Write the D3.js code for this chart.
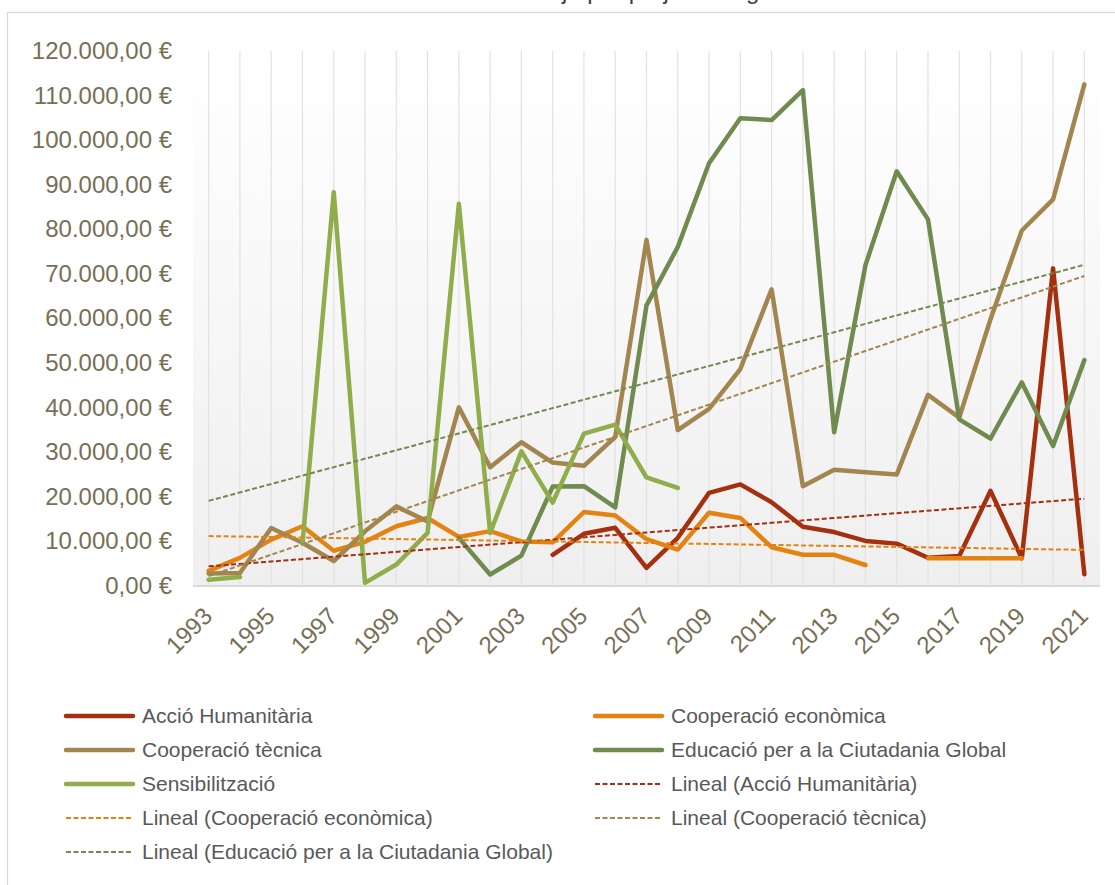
<!DOCTYPE html>
<html>
<head>
<meta charset="utf-8">
<script src="https://cdn.jsdelivr.net/npm/d3@7"></script>
<style>
  body { margin: 0; background: #fff; }
  svg { display: block; font-family: "Liberation Sans", Arial, sans-serif; }
</style>
</head>
<body>
<div id="chart"></div>
<script>
// Categories (years)
const years = [1993, 1994, 1995, 1996, 1997, 1998, 1999, 2000, 2001, 2002,
  2003, 2004, 2005, 2006, 2007, 2008, 2009, 2010, 2011, 2012,
  2013, 2014, 2015, 2016, 2017, 2018, 2019, 2020, 2021];

// Series values (null = no data)
const accioHumanitaria = [null, null, null, null, null, null, null, null, null, null,
  null, 6900, 11600, 12960, 3950, 10700, 20800, 22700, 18700, 13200,
  12000, 10000, 9400, 6240, 6640, 21250, 6100, 71200, 2500];
const cooperacioEconomica = [3300, 6200, 10300, 13300, 7800, 9800, 13300, 15150, 10900, 12200,
  9900, 9700, 16500, 15700, 10400, 8060, 16350, 15170, 8600, 6900,
  6900, 4600, null, 6100, 6100, 6100, 6100, null, null];
const cooperacioTecnica = [2700, 2800, 12900, 9600, 5500, 12160, 17760, 14400, 40000, 26570,
  32160, 27600, 26860, 33340, 77600, 34900, 39660, 48600, 66500, 22280,
  26000, 25440, 24900, 42800, 37700, 59800, 79700, 86700, 112500];
const educacioCiutadania = [null, null, null, null, null, null, null, null, 10700, 2460,
  6700, 22200, 22300, 17540, 62900, 76000, 94800, 104900, 104500, 111200,
  34400, 71900, 93000, 82200, 37300, 33000, 45600, 31300, 50600];
const sensibilitzacio = [1300, 1900, null, 9400, 88300, 600, 4700, 11800, 85700, 11800,
  30100, 18600, 34100, 36100, 24250, 21900, null, null, null, null,
  null, null, null, null, null, null, null, null, null];

// Linear trendlines, read at first and last category
const trendStart = [4300, 11100, 2100, 19000];
const trendEnd = [19500, 8000, 69500, 72000];

// Axis ticks
const yTicks = [0, 10000, 20000, 30000, 40000, 50000, 60000, 70000, 80000, 90000, 100000, 110000, 120000];
const xLabelYears = [1993, 1995, 1997, 1999, 2001, 2003, 2005, 2007, 2009, 2011, 2013, 2015, 2017, 2019, 2021];

const seriesNames = ['Acció Humanitària', 'Cooperació econòmica', 'Cooperació tècnica',
  'Educació per a la Ciutadania Global', 'Sensibilització'];
const seriesColors = ['#a5300f', '#e48312', '#a3864f', '#708b50', '#8fad4b'];
const seriesData = [accioHumanitaria, cooperacioEconomica, cooperacioTecnica, educacioCiutadania, sensibilitzacio];

const width = 1115, height = 885;
const plot = { left: 193, right: 1100, top: 51, bottom: 585.5 };

const svg = d3.select('#chart').append('svg')
  .attr('width', width)
  .attr('height', height);

// Chart border
svg.append('rect')
  .attr('x', 7.5).attr('y', 12.5)
  .attr('width', 1200).attr('height', 1000)
  .attr('fill', '#fff')
  .attr('stroke', '#d9d9d9')
  .attr('stroke-width', 1.3);

// Title (cut off at the top of the picture)
const titleText = 'Cost mitjà per projecte segons modalitat';
const probe = svg.append('text').attr('font-size', 24).text('Cost mit');
const probeW = probe.node().getComputedTextLength();
probe.remove();
svg.append('text')
  .attr('x', 562 - probeW)
  .attr('y', -1)
  .attr('font-size', 24)
  .attr('fill', '#404040')
  .text(titleText);

// Scales
const x = d3.scaleBand().domain(years).range([plot.left, plot.right]);
const xc = d => x(d) + x.bandwidth() / 2;
const y = d3.scaleLinear().domain([0, 120000]).range([plot.bottom, plot.top]);

// Plot area gradient fill
const defs = svg.append('defs');
const grad = defs.append('linearGradient')
  .attr('id', 'plotFill')
  .attr('x1', 0).attr('y1', 0).attr('x2', 0).attr('y2', 1);
grad.append('stop').attr('offset', '0%').attr('stop-color', '#ffffff');
grad.append('stop').attr('offset', '100%').attr('stop-color', '#efefef');
svg.append('rect')
  .attr('x', plot.left).attr('y', plot.top)
  .attr('width', plot.right - plot.left)
  .attr('height', plot.bottom - plot.top)
  .attr('fill', 'url(#plotFill)');

// Vertical gridlines at every category
const grid = svg.append('g')
  .attr('transform', `translate(0,${plot.bottom})`)
  .call(d3.axisBottom(x).tickSize(-(plot.bottom - plot.top)).tickFormat(''));
grid.select('.domain').remove();
grid.selectAll('.tick line').attr('stroke', '#e2e2e2').attr('stroke-width', 1.2);

// X axis line
svg.append('line')
  .attr('x1', plot.left).attr('x2', plot.right)
  .attr('y1', plot.bottom + 0.5).attr('y2', plot.bottom + 0.5)
  .attr('stroke', '#d9d9d9')
  .attr('stroke-width', 2);

// X axis labels (every other year, rotated)
const xAxis = svg.append('g')
  .attr('transform', `translate(0,${plot.bottom})`)
  .call(d3.axisBottom(x).tickValues(xLabelYears).tickSize(0).tickPadding(0));
xAxis.select('.domain').remove();
xAxis.selectAll('text')
  .attr('font-size', 24)
  .attr('font-family', '"Liberation Sans", Arial, sans-serif')
  .attr('fill', '#776f55')
  .attr('text-anchor', 'end')
  .attr('dy', null)
  .attr('y', 0)
  .attr('transform', 'translate(5,32) rotate(-45)');

// Y axis labels
const euro = d3.formatLocale({ decimal: ',', thousands: '.', grouping: [3], currency: ['', ' €'] }).format('$,.2f');
const yAxis = svg.append('g')
  .attr('transform', 'translate(172,0)')
  .call(d3.axisLeft(y).tickValues(yTicks).tickSize(0).tickPadding(0).tickFormat(euro));
yAxis.select('.domain').remove();
yAxis.selectAll('text')
  .attr('font-size', 24)
  .attr('font-family', '"Liberation Sans", Arial, sans-serif')
  .attr('fill', '#776f55');

// Series lines
const line = d3.line()
  .defined(d => d != null)
  .x((d, i) => xc(years[i]))
  .y(d => y(d));

seriesData.forEach((values, k) => {
  svg.append('path')
    .datum(values)
    .attr('d', line)
    .attr('fill', 'none')
    .attr('stroke', seriesColors[k])
    .attr('stroke-width', 4.5)
    .attr('stroke-linejoin', 'round')
    .attr('stroke-linecap', 'round');
});

// Trendlines (dashed)
const trendLine = d3.line().x(d => xc(d[0])).y(d => y(d[1]));
trendStart.forEach((v, k) => {
  svg.append('path')
    .datum([[years[0], v], [years[years.length - 1], trendEnd[k]]])
    .attr('d', trendLine)
    .attr('fill', 'none')
    .attr('stroke', seriesColors[k])
    .attr('stroke-width', 2)
    .attr('stroke-dasharray', '5,2.5');
});

// Legend
const legendItems = seriesNames.map((name, k) => ({ label: name, color: seriesColors[k], dashed: false }))
  .concat(trendStart.map((v, k) => ({ label: 'Lineal (' + seriesNames[k] + ')', color: seriesColors[k], dashed: true })));

const legend = svg.append('g').attr('class', 'legend');
legendItems.forEach((item, i) => {
  const col = i % 2;
  const row = Math.floor(i / 2);
  const lx = col === 0 ? 66 : 595;
  const ly = 716 + row * 34;
  legend.append('line')
    .attr('x1', lx).attr('x2', lx + 67)
    .attr('y1', ly).attr('y2', ly)
    .attr('stroke', item.color)
    .attr('stroke-width', item.dashed ? 2 : 4.5)
    .attr('stroke-dasharray', item.dashed ? '5,2.5' : null)
    .attr('stroke-linecap', item.dashed ? 'butt' : 'round');
  legend.append('text')
    .attr('x', lx + 76)
    .attr('y', ly)
    .attr('dy', '0.35em')
    .attr('font-size', 21)
    .attr('fill', '#595959')
    .text(item.label);
});
</script>
</body>
</html>
